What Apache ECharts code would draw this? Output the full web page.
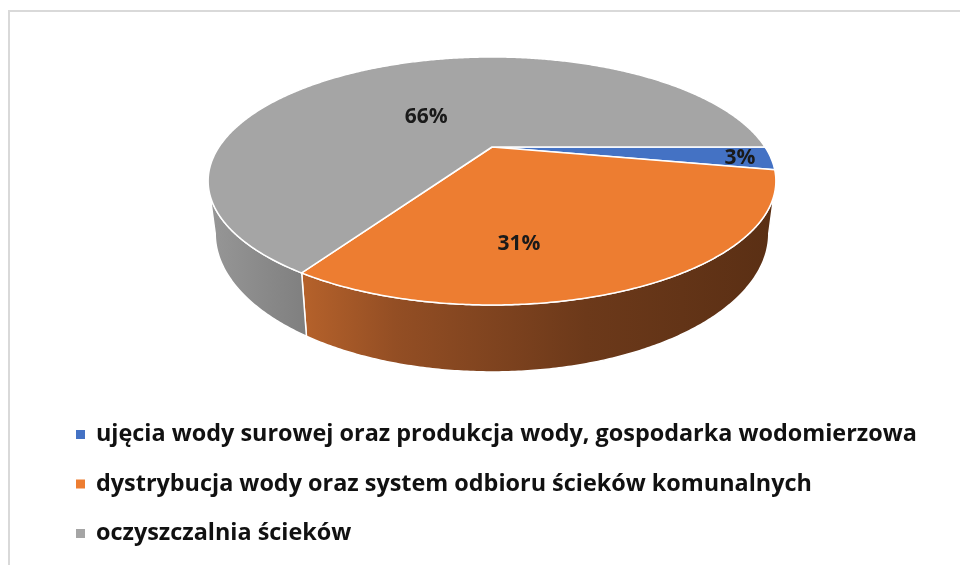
<!DOCTYPE html>
<html>
<head>
<meta charset="utf-8">
<script src="https://cdn.jsdelivr.net/npm/echarts@6/dist/echarts.min.js"></script>
<style>
html,body{margin:0;padding:0;background:#fff;}
#chart{width:960px;height:565px;}
</style>
</head>
<body>
<div id="chart"></div>
<script>
// ---- data ----
const categories = [
  'ujęcia wody surowej oraz produkcja wody, gospodarka wodomierzowa',
  'dystrybucja wody oraz system odbioru ścieków komunalnych',
  'oczyszczalnia ścieków'
];
const values = [3, 31, 66];

// ---- style ----
const topColors = ['#4472C4', '#ED7D31', '#A5A5A5'];
const sideStops = [
  [[0, '#3a62a8'], [1, '#2a4678']],
  [[0, '#b6622b'], [0.2, '#934e24'], [0.6, '#6c391a'], [1, '#5a2f14']],
  [[0, '#979797'], [1, '#7f7f7f']]
];
// label placement inside each slice: [fraction of slice angle, fraction of radius]
const labelPlacement = [[0.55, 0.89], [0.65, 0.69], [0.44, 0.38]];
const FONT = '"Open Sans", "Noto Sans", sans-serif';

// ---- 3D projection geometry ----
const geo = {cx: 492, cy: 147, sx: 273, sy: 114.7, p: 0.274, depth: 48.6, shrink: 0.975, start: 90};
const total = values.reduce((a, b) => a + b, 0);
const cum = [];
values.reduce((acc, v, i) => { cum[i] = acc; return acc + v; }, 0);

function proj(theta, r, drop) {
  const rad = theta * Math.PI / 180;
  const X = r * Math.sin(rad), Z = r * Math.cos(rad);
  const w = 1 + geo.p * Z;
  let x = geo.cx + geo.sx * X / w;
  let y = geo.cy - geo.sy * Z / w;
  if (drop) {
    y += geo.depth / w;
    x = geo.cx + (x - geo.cx) * geo.shrink;
  }
  return [x, y];
}
function arc(a0, a1, drop) {
  const pts = [];
  const n = Math.max(2, Math.ceil(Math.abs(a1 - a0) / 0.5));
  for (let k = 0; k <= n; k++) pts.push(proj(a0 + (a1 - a0) * k / n, 1, drop));
  return pts;
}
const silL = Math.acos(-geo.p) * 180 / Math.PI;
const silR = 360 - silL;

function makeRender(i) {
  return function (params, api) {
    const v = api.value(0);
    const a0 = geo.start + 360 * cum[i] / total;
    const a1 = a0 + 360 * v / total;
    const children = [];
    [[silL, silR], [silL + 360, silR + 360]].forEach(function (rng) {
      const s0 = Math.max(a0, rng[0]), s1 = Math.min(a1, rng[1]);
      if (s1 > s0) {
        const top = arc(s0, s1, false);
        const bot = arc(s0, s1, true).reverse();
        children.push({
          type: 'polygon',
          shape: {points: top.concat(bot)},
          style: {
            fill: new echarts.graphic.LinearGradient(0, 0, 1, 0,
              sideStops[i].map(s => ({offset: s[0], color: s[1]}))),
            stroke: '#ffffff', lineWidth: 1.5
          }
        });
      }
    });
    children.push({
      type: 'polygon',
      shape: {points: [[geo.cx, geo.cy]].concat(arc(a0, a1, false))},
      style: {fill: topColors[i], stroke: '#ffffff', lineWidth: 1.5, lineJoin: 'round'}
    });
    const lp = labelPlacement[i];
    const pos = proj(a0 + (a1 - a0) * lp[0], lp[1], false);
    children.push({
      type: 'text', x: pos[0], y: pos[1], z2: 10,
      style: {
        text: Math.round(v / total * 100) + '%',
        font: 'bold 21px ' + FONT, fill: '#1a1a1a',
        align: 'center', verticalAlign: 'middle'
      }
    });
    return {type: 'group', children: children};
  };
}

const chart = echarts.init(document.getElementById('chart'), null, {renderer: 'canvas'});
chart.setOption({
  animation: false,
  backgroundColor: '#ffffff',
  graphic: [{
    type: 'rect', silent: true, z: -10,
    shape: {x: 9, y: 11, width: 1000, height: 600},
    style: {fill: 'none', stroke: '#d9d9d9', lineWidth: 2}
  }],
  legend: {
    orient: 'vertical', left: 76, top: 423, padding: 0,
    icon: 'rect', itemWidth: 9, itemHeight: 9, itemGap: 26.5,
    data: categories,
    textStyle: {fontFamily: FONT, fontWeight: 'bold', fontSize: 23.4, lineHeight: 22, color: '#111', padding: [0, 0, 0, 6]}
  },
  series: categories.map(function (name, i) {
    return {
      type: 'custom', name: name, coordinateSystem: 'none',
      itemStyle: {color: topColors[i]},
      renderItem: makeRender(i),
      data: [[values[i]]]
    };
  })
});
</script>
</body>
</html>
